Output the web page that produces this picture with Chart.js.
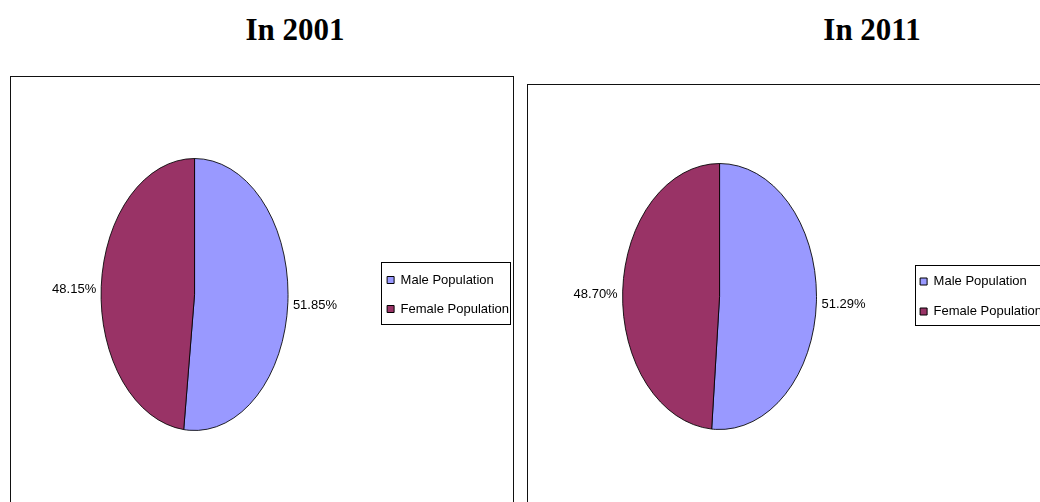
<!DOCTYPE html>
<html>
<head>
<meta charset="utf-8">
<script src="https://cdn.jsdelivr.net/npm/chart.js@4/dist/chart.umd.min.js"></script>
<style>
  html, body { margin: 0; padding: 0; background: #fff; overflow: hidden; }
  body { width: 1040px; height: 502px; position: relative; }
  .titulo { position: absolute; top: 12px; width: 200px; text-align: center;
            font: bold 31px "Liberation Serif", "Times New Roman", serif; color: #000; }
  .marco { position: absolute; border: 1px solid #111; }
  canvas { position: absolute; }
</style>
</head>
<body>
<div class="titulo" style="left:195px">In 2001</div>
<div class="titulo" style="left:772px">In 2011</div>
<div class="marco" style="left:10px; top:76px; width:502px; height:500px"></div>
<div class="marco" style="left:527px; top:84px; width:600px; height:500px"></div>
<canvas id="pastel2001" width="508" height="434" style="left:11px; top:77px"></canvas>
<canvas id="pastel2011" width="524" height="424" style="left:528px; top:85px"></canvas>

<script>
// Datos de población por sexo
const categorias = ["Male Population", "Female Population"];
const valores2001 = [51.85, 48.15];
const valores2011 = [51.29, 48.70];
const colores = ["#9999FF", "#993366"];

Chart.defaults.font.family = "'Liberation Sans', Arial, sans-serif";
Chart.defaults.color = "#000";

// Achata el pastel en elipse, pone los porcentajes y enmarca la leyenda
const elipse = {
  id: "elipse",
  beforeDatasetsDraw(chart, args, opts) {
    const arco = chart.getDatasetMeta(0).data[0];
    const ctx = chart.ctx;
    ctx.save();
    ctx.translate(arco.x, arco.y);
    ctx.scale(opts.escalaX, 1);
    ctx.translate(-arco.x, -arco.y);
  },
  afterDatasetsDraw(chart, args, opts) {
    const ctx = chart.ctx;
    ctx.restore();
    const valores = chart.data.datasets[0].data;
    chart.getDatasetMeta(0).data.forEach((arco, i) => {
      const medio = (arco.startAngle + arco.endAngle) / 2;
      const cos = Math.cos(medio);
      const sin = Math.sin(medio);
      const x = arco.x + arco.outerRadius * opts.escalaX * cos + (cos >= 0 ? 5 : -5);
      const y = arco.y + arco.outerRadius * sin + 3;
      ctx.save();
      ctx.font = "13px 'Liberation Sans', Arial, sans-serif";
      ctx.fillStyle = "#000";
      ctx.textAlign = cos >= 0 ? "left" : "right";
      ctx.textBaseline = "middle";
      ctx.fillText(valores[i].toFixed(2) + "%", x, y);
      ctx.restore();
    });
  },
  afterDraw(chart, args, opts) {
    const cajas = chart.legend.legendHitBoxes;
    if (!cajas || !cajas.length) return;
    const m = opts.marco;
    const izq = Math.min(...cajas.map(c => c.left)) - m.izq;
    const der = Math.max(...cajas.map(c => c.left + c.width)) + m.der;
    const primera = cajas[0];
    const ultima = cajas[cajas.length - 1];
    const sup = primera.top + primera.height / 2 - m.sup;
    const inf = ultima.top + ultima.height / 2 + m.inf;
    const ctx = chart.ctx;
    ctx.save();
    ctx.strokeStyle = "#000";
    ctx.lineWidth = 1;
    ctx.strokeRect(Math.round(izq) + 0.5, Math.round(sup) + 0.5,
                   Math.round(der - izq), Math.round(inf - sup));
    ctx.restore();
  }
};

function crearPastel(id, valores, op) {
  return new Chart(document.getElementById(id), {
    type: "pie",
    data: {
      labels: categorias,
      datasets: [{
        data: valores,
        backgroundColor: colores,
        borderColor: "#000",
        borderWidth: 1
      }]
    },
    options: {
      responsive: false,
      animation: false,
      events: [],
      layout: { padding: op.relleno },
      plugins: {
        legend: {
          position: "right",
          labels: {
            boxWidth: 7,
            boxHeight: 7,
            padding: op.espacio,
            color: "#000",
            font: { size: 13 }
          }
        },
        tooltip: { enabled: false },
        elipse: { escalaX: op.escalaX, marco: op.marco }
      }
    },
    plugins: [elipse]
  });
}

crearPastel("pastel2001", valores2001, {
  relleno: { top: 81, bottom: 80, left: 7, right: 0 },
  espacio: 16,
  escalaX: 0.6875,
  marco: { izq: 6, der: 1.5, sup: 18, inf: 15 }
});

crearPastel("pastel2011", valores2011, {
  relleno: { top: 78, bottom: 79, left: 8, right: 0 },
  espacio: 17,
  escalaX: 0.729,
  marco: { izq: 5, der: 2, sup: 17, inf: 13 }
});
</script>
</body>
</html>
